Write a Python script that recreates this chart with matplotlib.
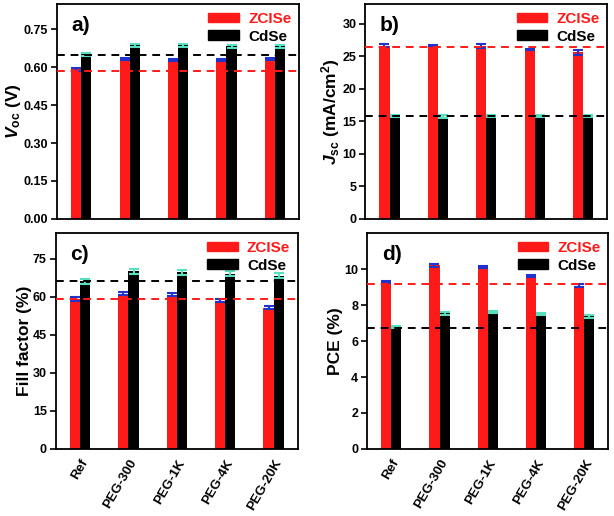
import numpy as np
import matplotlib
matplotlib.use("Agg")
import matplotlib.pyplot as plt
from matplotlib.patches import Patch

plt.rcParams['font.family'] = 'Liberation Sans'
plt.rcParams['font.weight'] = 'bold'
plt.rcParams['mathtext.fontset'] = 'custom'
plt.rcParams['mathtext.rm'] = 'Liberation Sans:bold'
plt.rcParams['mathtext.it'] = 'Liberation Sans:italic:bold'
plt.rcParams['mathtext.bf'] = 'Liberation Sans:bold'
plt.rcParams['mathtext.bfit'] = 'Liberation Sans:italic:bold'

samples = ['Ref', 'PEG-300', 'PEG-1K', 'PEG-4K', 'PEG-20K']

# a) Voc (V)
voc_zcise = [0.592, 0.632, 0.630, 0.630, 0.633]
voc_zcise_err = [0.005, 0.005, 0.004, 0.004, 0.005]
voc_cdse = [0.651, 0.687, 0.688, 0.683, 0.683]
voc_cdse_err = [0.006, 0.006, 0.006, 0.005, 0.006]
voc_ref = [0.585, 0.647]

# b) Jsc (mA/cm2)
jsc_zcise = [26.6, 26.6, 26.6, 26.0, 25.6]
jsc_zcise_err = [0.25, 0.1, 0.3, 0.1, 0.35]
jsc_cdse = [15.8, 15.7, 15.8, 15.8, 15.8]
jsc_cdse_err = [0.15, 0.2, 0.15, 0.1, 0.2]
jsc_ref = [26.4, 15.75]

# c) Fill factor (%)
ff_zcise = [59.0, 61.2, 60.8, 58.4, 55.6]
ff_zcise_err = [0.7, 0.6, 0.5, 0.5, 0.6]
ff_cdse = [66.0, 70.0, 69.6, 69.0, 68.3]
ff_cdse_err = [1.0, 1.0, 1.0, 1.0, 1.0]
ff_ref = [59.1, 66.2]

# d) PCE (%)
pce_zcise = [9.28, 10.22, 10.12, 9.62, 9.08]
pce_zcise_err = [0.07, 0.08, 0.08, 0.08, 0.08]
pce_cdse = [6.8, 7.55, 7.6, 7.5, 7.38]
pce_cdse_err = [0.05, 0.08, 0.06, 0.07, 0.07]
pce_ref = [9.2, 6.73]

panels = [
    ('a)', voc_zcise, voc_zcise_err, voc_cdse, voc_cdse_err, voc_ref,
     r'$\mathbfit{V}_{\mathbf{oc}}$ (V)', (0, 0.85), np.arange(0, 0.76, 0.15), '%.2f'),
    ('b)', jsc_zcise, jsc_zcise_err, jsc_cdse, jsc_cdse_err, jsc_ref,
     r'$\mathbfit{J}_{\mathbf{sc}}$ (mA/cm$^{\mathbf{2}}$)', (0, 33), np.arange(0, 31, 5), '%d'),
    ('c)', ff_zcise, ff_zcise_err, ff_cdse, ff_cdse_err, ff_ref,
     'Fill factor (%)', (0, 85), np.arange(0, 76, 15), '%d'),
    ('d)', pce_zcise, pce_zcise_err, pce_cdse, pce_cdse_err, pce_ref,
     'PCE (%)', (0, 12), np.arange(0, 11, 2), '%d'),
]

positions = [
    [0.093, 0.576, 0.394, 0.416],
    [0.595, 0.576, 0.394, 0.416],
    [0.091, 0.130, 0.394, 0.418],
    [0.598, 0.130, 0.393, 0.418],
]

red = '#ff1a1a'
blk = '#000000'
err_blue = '#2233cc'
err_cyan = '#55e0c0'

fig = plt.figure(figsize=(6.14, 5.16), dpi=100)
x = np.arange(len(samples))
w = 0.21

for i, (letter, zc, zce, cd, cde, ref, ylab, ylim, yt, fmt) in enumerate(panels):
    ax = fig.add_axes(positions[i])
    ax.bar(x - w / 2, zc, w, color=red, zorder=2)
    ax.bar(x + w / 2, cd, w, color=blk, zorder=2)
    ax.errorbar(x - w / 2, zc, yerr=zce, fmt='none', ecolor=err_blue,
                elinewidth=1.5, capsize=3.5, capthick=1.5, zorder=3)
    ax.errorbar(x + w / 2, cd, yerr=cde, fmt='none', ecolor=err_cyan,
                elinewidth=1.5, capsize=3.5, capthick=1.5, zorder=3)
    ax.axhline(ref[0], color=red, ls=(0, (4, 3)), lw=1.4, zorder=4)
    ax.axhline(ref[1], color=blk, ls=(0, (4, 3)), lw=1.4, zorder=4)

    ax.set_xlim(-0.5, 4.5)
    ax.set_ylim(*ylim)
    ax.set_yticks(yt)
    ax.set_yticklabels([fmt % v for v in yt], fontsize=9, fontweight='bold')
    ax.set_ylabel(ylab, fontsize=12.5, fontweight='bold', labelpad=0.5)
    ax.set_xticks(x)
    if i >= 2:
        ax.set_xticklabels(samples, rotation=60, ha='right', rotation_mode='anchor',
                           fontsize=9.5, fontweight='bold')
    else:
        ax.set_xticklabels([])
    ax.tick_params(axis='y', direction='out', length=4, width=1.2, pad=2.5)
    ax.tick_params(axis='x', length=0, pad=6)
    for s in ax.spines.values():
        s.set_linewidth(1.3)

    ax.text(0.06, 0.9, letter, transform=ax.transAxes, fontsize=15,
            fontweight='bold', va='center', ha='left')

    handles = [Patch(color=red), Patch(color=blk)]
    leg = ax.legend(handles, ['ZCISe', 'CdSe'], loc='upper right', frameon=False,
                    handlelength=2.0, handleheight=0.6,
                    borderaxespad=0.1, labelspacing=0.25, handletextpad=0.6,
                    prop={'weight': 'bold', 'size': 11})
    leg.get_texts()[0].set_color(red)

fig.savefig('out.png', dpi=100)
